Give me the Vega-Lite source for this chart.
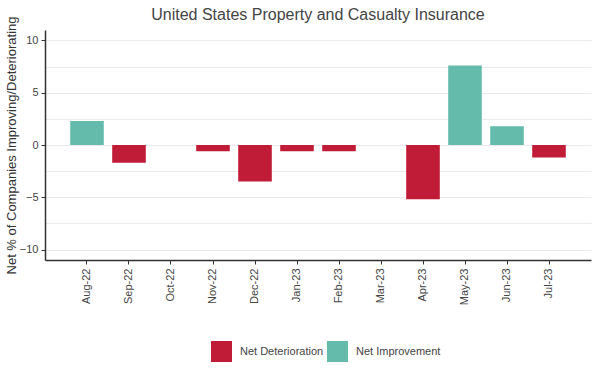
{
  "$schema": "https://vega.github.io/schema/vega-lite/v6.json",
  "width": 546,
  "height": 230,
  "autosize": {"type": "none"},
  "padding": {"left": 45, "top": 30, "right": 14, "bottom": 118},
  "background": "white",
  "title": {
    "text": "United States Property and Casualty Insurance",
    "font": "Liberation Sans",
    "fontSize": 16,
    "fontWeight": "normal",
    "color": "#444444",
    "anchor": "middle",
    "offset": -7
  },
  "data": {
    "values": [
      {"month": "Aug-22", "value": 2.3, "type": "Net Improvement"},
      {"month": "Sep-22", "value": -1.7, "type": "Net Deterioration"},
      {"month": "Oct-22", "value": 0, "type": "Net Deterioration"},
      {"month": "Nov-22", "value": -0.6, "type": "Net Deterioration"},
      {"month": "Dec-22", "value": -3.5, "type": "Net Deterioration"},
      {"month": "Jan-23", "value": -0.6, "type": "Net Deterioration"},
      {"month": "Feb-23", "value": -0.6, "type": "Net Deterioration"},
      {"month": "Mar-23", "value": 0, "type": "Net Deterioration"},
      {"month": "Apr-23", "value": -5.2, "type": "Net Deterioration"},
      {"month": "May-23", "value": 7.6, "type": "Net Improvement"},
      {"month": "Jun-23", "value": 1.8, "type": "Net Improvement"},
      {"month": "Jul-23", "value": -1.2, "type": "Net Deterioration"}
    ]
  },
  "mark": {"type": "bar"},
  "encoding": {
    "x": {
      "field": "month",
      "type": "ordinal",
      "sort": null,
      "scale": {"paddingInner": 0.2, "paddingOuter": 0.6},
      "axis": {
        "title": null,
        "labelAngle": -90,
        "labelAlign": "right",
        "labelBaseline": "middle",
        "labelFont": "Liberation Sans",
        "labelFontSize": 11,
        "labelColor": "#444444",
        "labelPadding": 4,
        "tickSize": 4,
        "tickColor": "#333333",
        "domainColor": "#333333",
        "domainWidth": 1.5,
        "grid": false
      }
    },
    "y": {
      "field": "value",
      "type": "quantitative",
      "scale": {"domain": [-11, 11], "nice": false, "zero": true},
      "axis": {
        "title": "Net % of Companies Improving/Deteriorating",
        "titleFont": "Liberation Sans",
        "titleFontSize": 13,
        "titleFontWeight": "normal",
        "titleColor": "#333333",
        "titlePadding": 1,
        "values": [-10, -7.5, -5, -2.5, 0, 2.5, 5, 7.5, 10],
        "labelExpr": "datum.value % 5 === 0 ? datum.label : ''",
        "labelFont": "Liberation Sans",
        "labelFontSize": 11,
        "labelColor": "#444444",
        "labelPadding": 3,
        "tickSize": 4,
        "tickColor": "#333333",
        "tickOpacity": {"condition": {"test": "datum.value % 5 !== 0", "value": 0}, "value": 1},
        "domainColor": "#333333",
        "domainWidth": 1.5,
        "grid": true,
        "gridColor": "#ebebeb",
        "gridWidth": 1
      }
    },
    "color": {
      "field": "type",
      "type": "nominal",
      "scale": {
        "domain": ["Net Deterioration", "Net Improvement"],
        "range": ["#C01C38", "#64BBAC"]
      },
      "legend": {
        "title": null,
        "orient": "none",
        "direction": "horizontal",
        "legendX": 166,
        "legendY": 311,
        "symbolType": "square",
        "symbolSize": 441,
        "symbolStrokeWidth": 0,
        "labelFont": "Liberation Sans",
        "labelFontSize": 11,
        "labelColor": "#444444",
        "labelOffset": 8,
        "columnPadding": 3
      }
    }
  },
  "config": {"view": {"stroke": null}}
}
